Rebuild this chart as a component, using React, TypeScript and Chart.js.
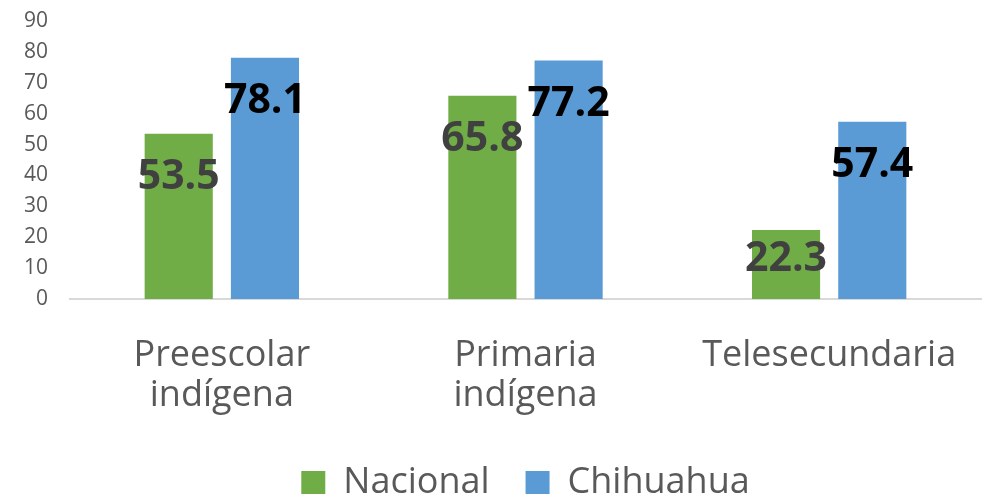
import React, { useEffect, useRef } from "react";
import { Chart, registerables } from "chart.js";

Chart.register(...registerables);

const categories: (string | string[])[] = [["Preescolar", "indígena"], ["Primaria", "indígena"], "Telesecundaria"];
const nacional = [53.5, 65.8, 22.3];
const chihuahua = [78.1, 77.2, 57.4];
const seriesNames = ["Nacional", "Chihuahua"];
const yMin = 0;
const yMax = 90;
const yStep = 10;

const FONT = '"Open Sans", "Noto Sans", sans-serif';

const labelPlugin = {
  id: "barValueLabels",
  afterDatasetsDraw(chart: any) {
    const ctx = chart.ctx;
    ctx.save();
    ctx.font = `bold 41px ${FONT}`;
    ctx.textAlign = "center";
    ctx.textBaseline = "middle";
    const colors = ["#404040", "#000000"];
    chart.data.datasets.forEach((ds: any, i: number) => {
      const meta = chart.getDatasetMeta(i);
      ctx.fillStyle = colors[i];
      meta.data.forEach((bar: any, j: number) => {
        const y = Math.min(bar.y + 44, bar.base - 40);
        ctx.fillText(Number(ds.data[j]).toFixed(1), bar.x, y);
      });
    });
    ctx.restore();
  },
};

export default function App() {
  const ref = useRef<HTMLCanvasElement | null>(null);
  useEffect(() => {
    if (!ref.current) return;
    const chart = new Chart(ref.current, {
      type: "bar",
      data: {
        labels: categories,
        datasets: [
          { label: seriesNames[0], data: nacional, backgroundColor: "#70AD47", categoryPercentage: 0.568, barPercentage: 0.79 },
          { label: seriesNames[1], data: chihuahua, backgroundColor: "#5B9BD5", categoryPercentage: 0.568, barPercentage: 0.79 },
        ],
      },
      options: {
        responsive: false,
        animation: false,
        layout: { padding: { top: 21, right: 10, left: 0, bottom: -17 } },
        plugins: {
          tooltip: { enabled: false },
          legend: {
            position: "bottom",
            fullSize: false,
            labels: {
              boxWidth: 24,
              boxHeight: 24,
              padding: 36,
              color: "#595959",
              font: { family: FONT, size: 36 },
            },
          },
        },
        scales: {
          x: {
            grid: { display: false, drawTicks: false },
            border: { display: true, color: "#D9D9D9", width: 2 },
            ticks: {
              color: "#595959",
              font: { family: FONT, size: 36, lineHeight: 1.1 },
              padding: 37,
              maxRotation: 0,
              autoSkip: false,
            },
            afterFit: (scale: any) => {
              scale.height = 130;
              scale.paddingLeft = 0;
              scale.paddingRight = 0;
            },
          },
          y: {
            min: yMin,
            max: yMax,
            grid: { display: false, drawTicks: false },
            border: { display: false },
            ticks: {
              stepSize: yStep,
              autoSkip: false,
              color: "#595959",
              font: { family: FONT, size: 21 },
              padding: 22,
            },
            afterFit: (scale: any) => {
              scale.width = 70;
              scale.paddingTop = 0;
              scale.paddingBottom = 0;
            },
          },
        },
      },
      plugins: [labelPlugin],
    });
    return () => chart.destroy();
  }, []);
  return (
    <div style={{ position: "fixed", left: 0, top: 0, width: 991, height: 494, background: "#fff" }}>
      <canvas ref={ref} width={991} height={494} />
    </div>
  );
}
